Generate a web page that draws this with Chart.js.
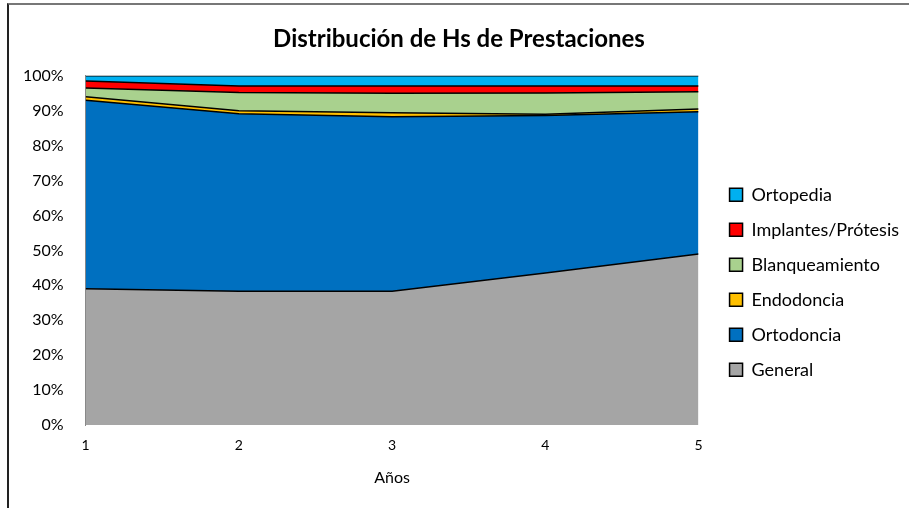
<!DOCTYPE html>
<html>
<head>
<meta charset="utf-8">
<script src="https://cdn.jsdelivr.net/npm/chart.js@4.4.0/dist/chart.umd.min.js"></script>
<style>
  body { margin: 0; background: #fff; }
  #frame { position: absolute; left: 7px; top: 3px; width: 902px; height: 505px;
           border-left: 2px solid #222; border-top: 2px solid #777; }
  canvas { display: block; }
</style>
</head>
<body>
<div id="frame"><canvas id="areaChart" width="900" height="503"></canvas></div>
<script>
var years = [1, 2, 3, 4, 5];
var general = [39, 38.3, 38.3, 43.5, 49];
var ortodoncia = [54, 50.8, 50, 45.1, 40.7];
var endodoncia = [1, 0.9, 1.1, 0.4, 0.8];
var blanqueamiento = [2.5, 5.2, 5.6, 6.1, 4.9];
var implantes = [2, 1.9, 2.1, 2, 1.7];
var ortopedia = [1.5, 2.9, 2.9, 2.9, 2.9];

var legendGap = 14; // extra space between plot and legend

function pts(arr) {
    return arr.map(function (v, i) { return { x: years[i], y: v }; });
}

function serie(label, arr, color, fill) {
    return {
        label: label,
        data: pts(arr),
        backgroundColor: color,
        borderColor: '#000',
        borderWidth: 1.5,
        pointRadius: 0,
        tension: 0,
        fill: fill
    };
}

// widen the legend box and push its items right, so the plot ends earlier
var legendShift = {
    id: 'legendShift',
    beforeLayout: function (chart) {
        var lg = chart.legend;
        if (lg && !lg._wrapped) {
            var fit = lg.fit;
            lg.fit = function () {
                fit.call(this);
                this.width += legendGap;
            };
            lg._wrapped = true;
        }
    },
    afterLayout: function (chart) {
        if (chart.legend) chart.legend.left += legendGap;
    }
};

Chart.defaults.font.family = 'Lato, "Liberation Sans", sans-serif';
Chart.defaults.color = '#000';

var ctx = document.getElementById('areaChart').getContext('2d');
var myChart = new Chart(ctx, {
    type: 'line',
    data: {
        datasets: [
            serie('General', general, '#A5A5A5', 'origin'),
            serie('Ortodoncia', ortodoncia, '#0070C0', '-1'),
            serie('Endodoncia', endodoncia, '#FFC000', '-1'),
            serie('Blanqueamiento', blanqueamiento, '#A9D18E', '-1'),
            serie('Implantes/Prótesis', implantes, '#FF0000', '-1'),
            serie('Ortopedia', ortopedia, '#00B0F0', '-1')
        ]
    },
    plugins: [legendShift],
    options: {
        responsive: false,
        animation: false,
        layout: { padding: { left: 0, right: 0, top: 4, bottom: 17 } },
        plugins: {
            title: {
                display: true,
                text: 'Distribución de Hs de Prestaciones',
                font: { size: 24, weight: 'bold' },
                padding: { top: 16, bottom: 22 }
            },
            legend: {
                position: 'right',
                reverse: true,
                title: { display: true, text: ' ', font: { size: 12 }, padding: { top: 0, bottom: 50 } },
                labels: {
                    boxWidth: 13,
                    boxHeight: 13,
                    padding: 17,
                    font: { size: 18 }
                }
            },
            tooltip: { enabled: false }
        },
        scales: {
            x: {
                type: 'linear',
                min: 1,
                max: 5,
                grid: { display: false },
                border: { display: false },
                ticks: { stepSize: 1, font: { size: 14 }, padding: 4 },
                title: { display: true, text: 'Años', font: { size: 16 }, padding: { top: 10 } }
            },
            y: {
                stacked: true,
                min: 0,
                max: 100,
                grid: { display: false },
                border: { display: true, color: '#888' },
                ticks: {
                    stepSize: 10,
                    font: { size: 16 },
                    padding: 14,
                    callback: function (v) { return v + '%'; }
                }
            }
        }
    }
});
</script>
</body>
</html>
